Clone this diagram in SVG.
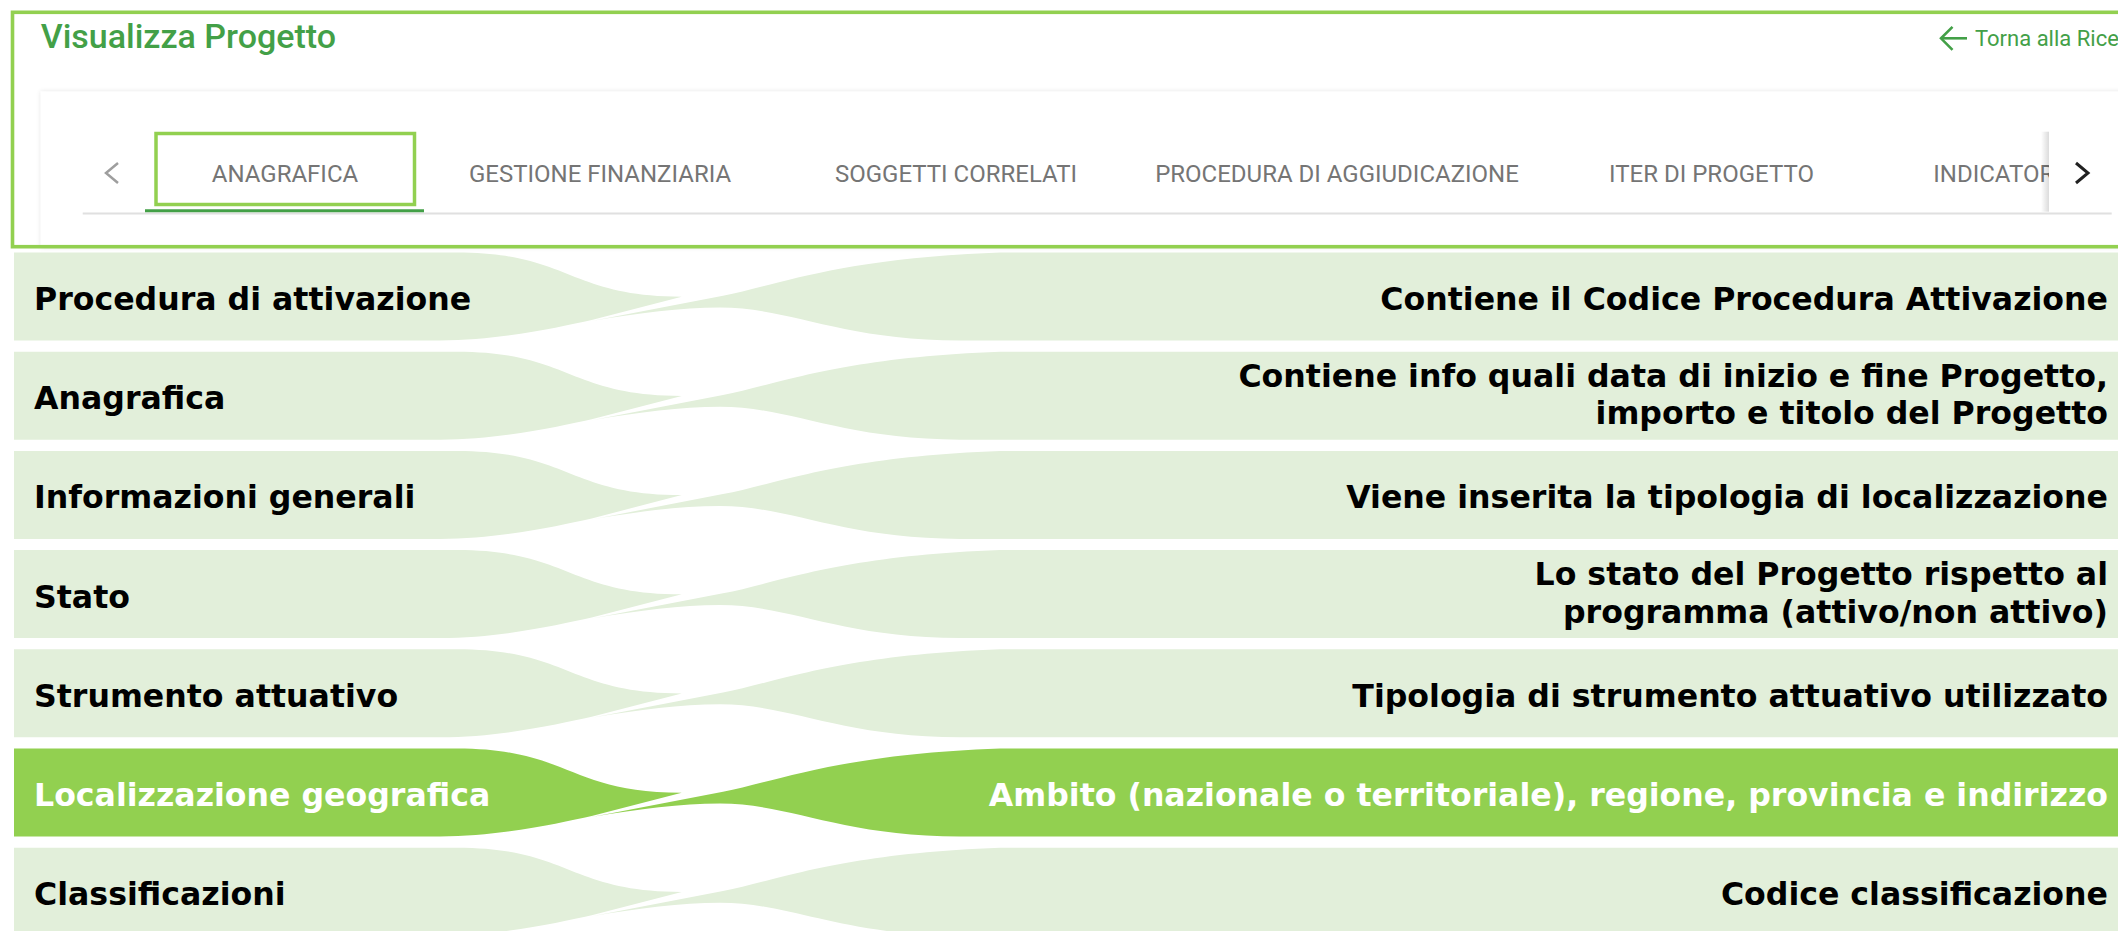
<svg xmlns="http://www.w3.org/2000/svg" width="2118" height="931" viewBox="0 0 2118 931">
  <defs>
    <style>
      .band { fill: #E2EFDA; }
      .band.active { fill: #92D050; }
      .lbl { font-family: "DejaVu Sans", Verdana, sans-serif; font-weight: bold; font-size: 31.6px; fill: #000000; }
      .lbl.r { text-anchor: end; }
      .lbl.w { fill: #FFFFFF; }
      .tab { font-family: Roboto, "Liberation Sans", sans-serif; font-size: 24px; fill: #757575; text-anchor: middle; }
      .title { font-family: Roboto, "Liberation Sans", sans-serif; font-weight: 500; font-size: 34px; fill: #43A047; }
      .link { font-family: Roboto, "Liberation Sans", sans-serif; font-size: 22px; fill: #43A047; }
      .icon { fill: none; stroke-linecap: butt; stroke-linejoin: miter; }
    </style>
    <filter id="shadow" x="-5%" y="-20%" width="110%" height="140%">
      <feDropShadow dx="0" dy="0" stdDeviation="2" flood-color="#000000" flood-opacity="0.12"/>
    </filter>
    <linearGradient id="panelShadow" x1="0" y1="0" x2="1" y2="0">
      <stop offset="0" stop-color="#000000" stop-opacity="0"/>
      <stop offset="1" stop-color="#000000" stop-opacity="0.14"/>
    </linearGradient>
    <path id="lshape" d="M14,0 H457 C569,0 569,44.2 681.7,44.2 L591.7,67.5 C560,74.5 500,88 440,88 H14 Z"/>
    <path id="rshape" d="M591.7,68.5 L723,43.2 C775,33.5 840,5.5 1000,0 H2118 V88 H960 C840,87.5 790,55 720,55 C680,55 640,60.5 591.7,68.5 Z"/>
  </defs>

  <rect x="0" y="0" width="2118" height="931" fill="#FFFFFF"/>

  <!-- Screenshot header -->
  <g id="header">
    <rect x="40.7" y="91.5" width="2120" height="156" fill="#FFFFFF" filter="url(#shadow)"/>
    <text class="title" x="40.7" y="48.3">Visualizza Progetto</text>
    <g class="icon" stroke="#43A047" stroke-width="2.6">
      <line x1="1941" y1="38.3" x2="1967" y2="38.3"/>
      <polyline points="1952.5,26.8 1941,38.3 1952.5,49.8"/>
    </g>
    <text class="link" x="1975" y="45.7">Torna alla Rice</text>
  </g>

  <g id="tabs">
    <line x1="82.7" y1="213.5" x2="2111.7" y2="213.5" stroke="#E0E0E0" stroke-width="2"/>
    <polyline class="icon" points="118,163 106,173 118,183" stroke="#9E9E9E" stroke-width="2.5"/>
    <g id="tab-anagrafica">
      <rect x="156" y="133.5" width="258.5" height="71" fill="none" stroke="#92D050" stroke-width="3.5"/>
      <line x1="145" y1="210.8" x2="424" y2="210.8" stroke="#43A047" stroke-width="3"/>
      <text class="tab" x="285" y="181.7">ANAGRAFICA</text>
    </g>
    <text class="tab" x="600" y="181.7">GESTIONE FINANZIARIA</text>
    <text class="tab" x="956" y="181.7">SOGGETTI CORRELATI</text>
    <text class="tab" x="1337" y="181.7">PROCEDURA DI AGGIUDICAZIONE</text>
    <text class="tab" x="1711.5" y="181.7">ITER DI PROGETTO</text>
    <text class="tab" x="1933.3" y="181.7" style="text-anchor:start">INDICATOR</text>
    <g id="tab-next">
      <rect x="2041" y="131.7" width="8" height="80" fill="url(#panelShadow)"/>
      <rect x="2049" y="131.7" width="69" height="80" fill="#FFFFFF"/>
      <polyline class="icon" points="2076,163 2088,173 2076,183" stroke="#212121" stroke-width="3"/>
    </g>
  </g>

  <rect id="frame" x="12.5" y="12.3" width="2130" height="234.4" fill="none" stroke="#92D050" stroke-width="3.6"/>

  <!-- Rows -->
  <g id="row1" transform="translate(0,252.5)">
    <use href="#lshape" class="band"/>
    <use href="#rshape" class="band"/>
    <text class="lbl" x="34" y="57.5">Procedura di attivazione</text>
    <text class="lbl r" x="2108" y="57.5">Contiene il Codice Procedura Attivazione</text>
  </g>
  <g id="row2" transform="translate(0,351.7)">
    <use href="#lshape" class="band"/>
    <use href="#rshape" class="band"/>
    <text class="lbl" x="34" y="57.5">Anagrafica</text>
    <text class="lbl r" x="2108" y="35">Contiene info quali data di inizio e fine Progetto,</text>
    <text class="lbl r" x="2108" y="72.6">importo e titolo del Progetto</text>
  </g>
  <g id="row3" transform="translate(0,450.9)">
    <use href="#lshape" class="band"/>
    <use href="#rshape" class="band"/>
    <text class="lbl" x="34" y="57.5">Informazioni generali</text>
    <text class="lbl r" x="2108" y="57.5">Viene inserita la tipologia di localizzazione</text>
  </g>
  <g id="row4" transform="translate(0,550.1)">
    <use href="#lshape" class="band"/>
    <use href="#rshape" class="band"/>
    <text class="lbl" x="34" y="57.5">Stato</text>
    <text class="lbl r" x="2108" y="35">Lo stato del Progetto rispetto al</text>
    <text class="lbl r" x="2108" y="72.6">programma (attivo/non attivo)</text>
  </g>
  <g id="row5" transform="translate(0,649.3)">
    <use href="#lshape" class="band"/>
    <use href="#rshape" class="band"/>
    <text class="lbl" x="34" y="57.5">Strumento attuativo</text>
    <text class="lbl r" x="2108" y="57.5">Tipologia di strumento attuativo utilizzato</text>
  </g>
  <g id="row6" transform="translate(0,748.5)">
    <use href="#lshape" class="band active"/>
    <use href="#rshape" class="band active"/>
    <text class="lbl w" x="34" y="57.5">Localizzazione geografica</text>
    <text class="lbl r w" x="2108" y="57.5">Ambito (nazionale o territoriale), regione, provincia e indirizzo</text>
  </g>
  <g id="row7" transform="translate(0,847.7)">
    <use href="#lshape" class="band"/>
    <use href="#rshape" class="band"/>
    <text class="lbl" x="34" y="57.5">Classificazioni</text>
    <text class="lbl r" x="2108" y="57.5">Codice classificazione</text>
  </g>

  <g id="connectors"/>
</svg>
